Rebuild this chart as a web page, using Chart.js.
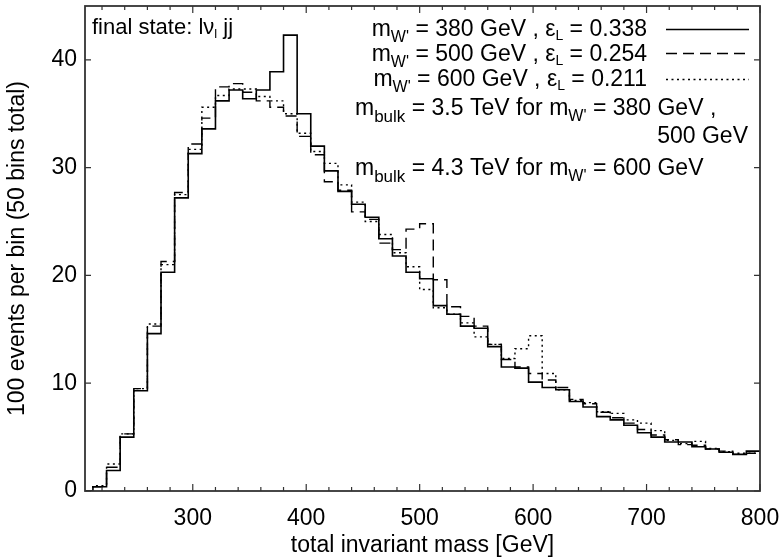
<!DOCTYPE html>
<html>
<head>
<meta charset="utf-8">
<script src="https://cdn.jsdelivr.net/npm/chart.js@4.4.0/dist/chart.umd.min.js"></script>
<style>
  html, body { margin: 0; padding: 0; background: #fff; }
  #wrap { width: 784px; height: 559px; }
</style>
</head>
<body>
<div id="wrap"><canvas id="chart" width="784" height="559"></canvas></div>
<script>
// bin edges [GeV], 50 bins of 12 GeV
const binEdges = [200, 212, 224, 236, 248, 260, 272, 284, 296, 308,
                  320, 332, 344, 356, 368, 380, 392, 404, 416, 428,
                  440, 452, 464, 476, 488, 500, 512, 524, 536, 548,
                  560, 572, 584, 596, 608, 620, 632, 644, 656, 668,
                  680, 692, 704, 716, 728, 740, 752, 764, 776, 788, 800];

// events per bin for each W' mass
const eventsW380 = [0, 0.4, 1.9, 5.0, 9.3, 14.6, 20.3, 27.2, 31.3, 33.6,
                    36.2, 37.2, 36.4, 37.2, 38.9, 42.3, 35.0, 32.0, 29.7, 27.8,
                    26.6, 25.4, 23.4, 21.8, 20.3, 19.7, 17.2, 16.4, 15.3, 15.1,
                    13.4, 11.5, 11.4, 10.1, 9.6, 9.4, 8.3, 7.8, 6.9, 6.6,
                    6.1, 5.4, 5.0, 4.55, 4.55, 4.1, 3.9, 3.6, 3.4, 3.7];
const eventsW500 = [0, 0.4, 2.2, 5.3, 9.5, 15.3, 21.3, 27.7, 32.2, 34.6,
                    37.5, 37.8, 37.0, 36.2, 35.6, 34.8, 32.9, 31.2, 28.7, 27.9,
                    25.9, 25.2, 23.0, 22.4, 24.3, 24.8, 19.6, 17.1, 16.2, 15.3,
                    13.6, 12.2, 11.5, 10.9, 10.3, 9.6, 8.5, 8.1, 7.3, 6.8,
                    6.3, 5.7, 5.2, 4.75, 4.3, 4.25, 3.9, 3.7, 3.4, 3.5];
const eventsW600 = [0, 0.5, 2.5, 5.3, 9.5, 15.5, 21.0, 27.5, 31.7, 35.6,
                    36.7, 37.3, 37.3, 36.6, 36.2, 35.0, 33.2, 31.5, 30.4, 28.4,
                    26.8, 25.0, 23.8, 22.1, 20.8, 18.7, 17.0, 16.4, 15.6, 14.3,
                    13.6, 12.3, 13.2, 14.4, 10.9, 9.4, 8.4, 8.2, 7.35, 7.2,
                    6.6, 6.3, 5.6, 4.7, 4.4, 4.6, 3.95, 3.65, 3.5, 3.5];

const xTickValues = [300, 400, 500, 600, 700, 800];
const yTickValues = [0, 10, 20, 30, 40];

const FONT = '"Liberation Sans", Arial, Helvetica, sans-serif';

function histPoints(vals) {
    return binEdges.map((x, i) => ({x: x, y: vals[Math.min(i, vals.length - 1)]}));
}

// text with subscripts: parts = [text, size, dy]
function richText(ctx, parts, x, y, align) {
    let w = 0;
    parts.forEach(p => { ctx.font = p[1] + 'px ' + FONT; w += ctx.measureText(p[0]).width; });
    let cx = align === 'right' ? x - w : x;
    parts.forEach(p => {
        ctx.font = p[1] + 'px ' + FONT;
        ctx.fillText(p[0], cx, y + (p[2] || 0));
        cx += ctx.measureText(p[0]).width;
    });
}

const decorations = {
    id: 'decorations',
    afterDatasetsDraw(chart) {
        const ctx = chart.ctx;
        const a = chart.chartArea;
        const xs = chart.scales.x, ys = chart.scales.y;
        ctx.save();
        // frame
        ctx.strokeStyle = '#333';
        ctx.lineWidth = 1.8;
        ctx.strokeRect(a.left, a.top, a.right - a.left, a.bottom - a.top);
        // inward ticks
        ctx.lineWidth = 1.2;
        ctx.beginPath();
        for (let v = 220; v <= 800; v += 20) {
            const px = xs.getPixelForValue(v);
            const len = v % 100 === 0 ? 7 : 4;
            ctx.moveTo(px, a.bottom); ctx.lineTo(px, a.bottom - len);
            ctx.moveTo(px, a.top); ctx.lineTo(px, a.top + len);
        }
        yTickValues.forEach(v => {
            const py = ys.getPixelForValue(v);
            ctx.moveTo(a.left, py); ctx.lineTo(a.left + 6, py);
            ctx.moveTo(a.right, py); ctx.lineTo(a.right - 6, py);
        });
        ctx.stroke();

        // labels
        ctx.fillStyle = '#000';
        ctx.textBaseline = 'alphabetic';
        richText(ctx, [['final state: l\u03bd', 22], ['l', 13, 4], [' jj', 22]], 92, 34, 'left');

        const rows = [
            [[['m', 23], ["W'", 16, 6], [' = 380 GeV , \u03b5', 23], ['L', 14, 4], [' = 0.338', 23]], 36, 29.5],
            [[['m', 23], ["W'", 16, 6], [' = 500 GeV , \u03b5', 23], ['L', 14, 4], [' = 0.254', 23]], 61, 53.5],
            [[['m', 23], ["W'", 16, 6], [' = 600 GeV , \u03b5', 23], ['L', 14, 4], [' = 0.211', 23]], 86, 79.5]
        ];
        rows.forEach((r, i) => {
            richText(ctx, r[0], 647, r[1], 'right');
            const ds = chart.data.datasets[i];
            ctx.strokeStyle = '#000';
            ctx.lineWidth = ds.borderWidth;
            ctx.setLineDash(ds.borderDash || []);
            ctx.beginPath();
            ctx.moveTo(666, r[2]); ctx.lineTo(749, r[2]);
            ctx.stroke();
        });
        ctx.setLineDash([]);
        richText(ctx, [['m', 23], ['bulk', 17, 7], [' = 3.5 TeV for m', 23], ["W'", 16, 6], [' = 380 GeV ,', 23]], 355, 115, 'left');
        richText(ctx, [['500 GeV', 23]], 748, 143, 'right');
        richText(ctx, [['m', 23], ['bulk', 17, 7], [' = 4.3 TeV for m', 23], ["W'", 16, 6], [' = 600 GeV', 23]], 355, 175, 'left');
        ctx.restore();
    }
};

new Chart(document.getElementById('chart').getContext('2d'), {
    type: 'line',
    data: {
        datasets: [
            {label: "m_W' = 380 GeV", data: histPoints(eventsW380), borderColor: '#000', borderWidth: 1.6, borderDash: []},
            {label: "m_W' = 500 GeV", data: histPoints(eventsW500), borderColor: '#000', borderWidth: 1.4, borderDash: [11, 6]},
            {label: "m_W' = 600 GeV", data: histPoints(eventsW600), borderColor: '#000', borderWidth: 1.4, borderDash: [2, 3.5]}
        ]
    },
    options: {
        responsive: false,
        animation: false,
        devicePixelRatio: 1,
        layout: {padding: {top: 6, right: 24, left: 0, bottom: 0}},
        elements: {
            line: {stepped: true, fill: false, tension: 0, borderCapStyle: 'butt'},
            point: {radius: 0, hoverRadius: 0}
        },
        plugins: {legend: {display: false}, tooltip: {enabled: false}},
        scales: {
            x: {
                type: 'linear', min: 205, max: 800,
                grid: {display: false, drawTicks: false},
                border: {display: false},
                ticks: {color: '#000', padding: 14, font: {family: FONT, size: 23}, maxRotation: 0, autoSkip: false},
                afterBuildTicks: s => { s.ticks = xTickValues.map(v => ({value: v})); },
                afterFit: s => { s.height = 68; s.paddingLeft = 0; s.paddingRight = 0; },
                title: {display: true, text: 'total invariant mass [GeV]', color: '#000', font: {family: FONT, size: 23}, padding: {top: 0, bottom: 0}}
            },
            y: {
                min: 0, max: 45,
                grid: {display: false, drawTicks: false},
                border: {display: false},
                ticks: {color: '#000', padding: 8, font: {family: FONT, size: 23}, autoSkip: false},
                afterBuildTicks: s => { s.ticks = yTickValues.map(v => ({value: v})); },
                afterFit: s => { s.width = 85; s.paddingTop = 0; s.paddingBottom = 0; },
                title: {display: true, text: '100 events per bin (50 bins total)', color: '#000', font: {family: FONT, size: 23}, padding: {top: 4, bottom: 0}}
            }
        }
    },
    plugins: [decorations]
});
</script>
</body>
</html>
